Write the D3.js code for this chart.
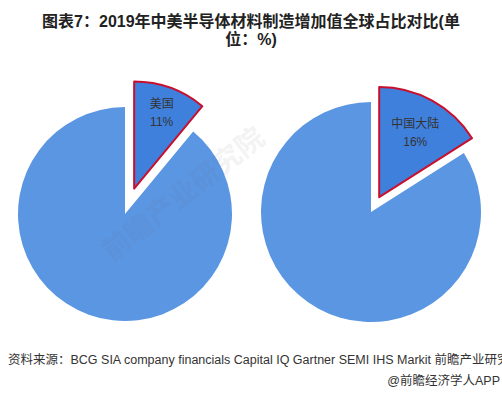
<!DOCTYPE html>
<html>
<head>
<meta charset="utf-8">
<script src="https://cdn.jsdelivr.net/npm/d3@7"></script>
<style>
  body { margin: 0; background: #fff; }
  text { font-family: "Liberation Sans", "Noto Sans CJK SC", sans-serif; }
</style>
</head>
<body>
<div id="main"></div>
<script>
var regions = ["美国", "中国大陆"];
var shares = [11, 16];
var titleLines = ["图表7：2019年中美半导体材料制造增加值全球占比对比(单", "位：%)"];
var sourceText = "资料来源：BCG SIA company financials Capital IQ Gartner SEMI IHS Markit 前瞻产业研究院";
var creditText = "@前瞻经济学人APP";

var ctx = {
    w: 502,
    h: 395,
    pies: [
        { cx: 125, cy: 214, r: 107, explode: 27, labelR: 0.76 },
        { cx: 371, cy: 212, r: 110, explode: 17, labelR: 0.68 }
    ]
};

var svg = d3.select("#main").append("svg")
    .attr("width", ctx.w)
    .attr("height", ctx.h);

// title
svg.append("text")
    .attr("text-anchor", "middle")
    .attr("font-weight", "bold")
    .attr("font-size", 16)
    .attr("fill", "#222")
    .selectAll("tspan")
    .data(titleLines)
    .join("tspan")
    .attr("x", ctx.w / 2)
    .attr("y", (d, i) => 27 + i * 18)
    .text(d => d);

var pie = d3.pie().sort(null).value(d => d);

regions.forEach(function(name, i) {
    var p = ctx.pies[i];
    var slices = pie([shares[i], 100 - shares[i]]);
    var arc = d3.arc().innerRadius(0).outerRadius(p.r);
    var labelArc = d3.arc().innerRadius(p.r * p.labelR).outerRadius(p.r * p.labelR);
    var g = svg.append("g").attr("transform", `translate(${p.cx},${p.cy})`);

    // main (rest of world) slice
    g.append("path")
        .attr("d", arc(slices[1]))
        .attr("fill", "#5b96e2");

    // exploded slice
    var s = slices[0];
    var mid = (s.startAngle + s.endAngle) / 2;
    var dx = Math.sin(mid) * p.explode, dy = -Math.cos(mid) * p.explode;
    var eg = g.append("g").attr("transform", `translate(${dx},${dy})`);
    eg.append("path")
        .attr("d", arc(s))
        .attr("fill", "#3f80dd")
        .attr("stroke", "#c8102e")
        .attr("stroke-width", 2)
        .attr("stroke-linejoin", "round");

    var c = labelArc.centroid(s);
    var lbl = eg.append("text")
        .attr("text-anchor", "middle")
        .attr("font-family", "Noto Sans CJK SC, sans-serif")
        .attr("font-size", 12)
        .attr("fill", "#333");
    lbl.append("tspan").attr("x", c[0]).attr("y", c[1] - 4).text(name);
    lbl.append("tspan").attr("x", c[0]).attr("y", c[1] + 14).text(shares[i] + "%");
});

// faint watermark over the pies
svg.append("text")
    .attr("transform", "translate(112,262) rotate(-38)")
    .attr("font-family", "Noto Sans CJK SC, sans-serif")
    .attr("font-size", 28)
    .attr("font-weight", "bold")
    .attr("fill", "#667")
    .attr("opacity", 0.07)
    .text("前瞻产业研究院");

// source
svg.append("text")
    .attr("x", 8)
    .attr("y", 364)
    .attr("font-size", 12.5)
    .attr("fill", "#333")
    .text(sourceText);

svg.append("text")
    .attr("x", 500)
    .attr("y", 385)
    .attr("text-anchor", "end")
    .attr("font-size", 12.5)
    .attr("fill", "#333")
    .text(creditText);
</script>
</body>
</html>
